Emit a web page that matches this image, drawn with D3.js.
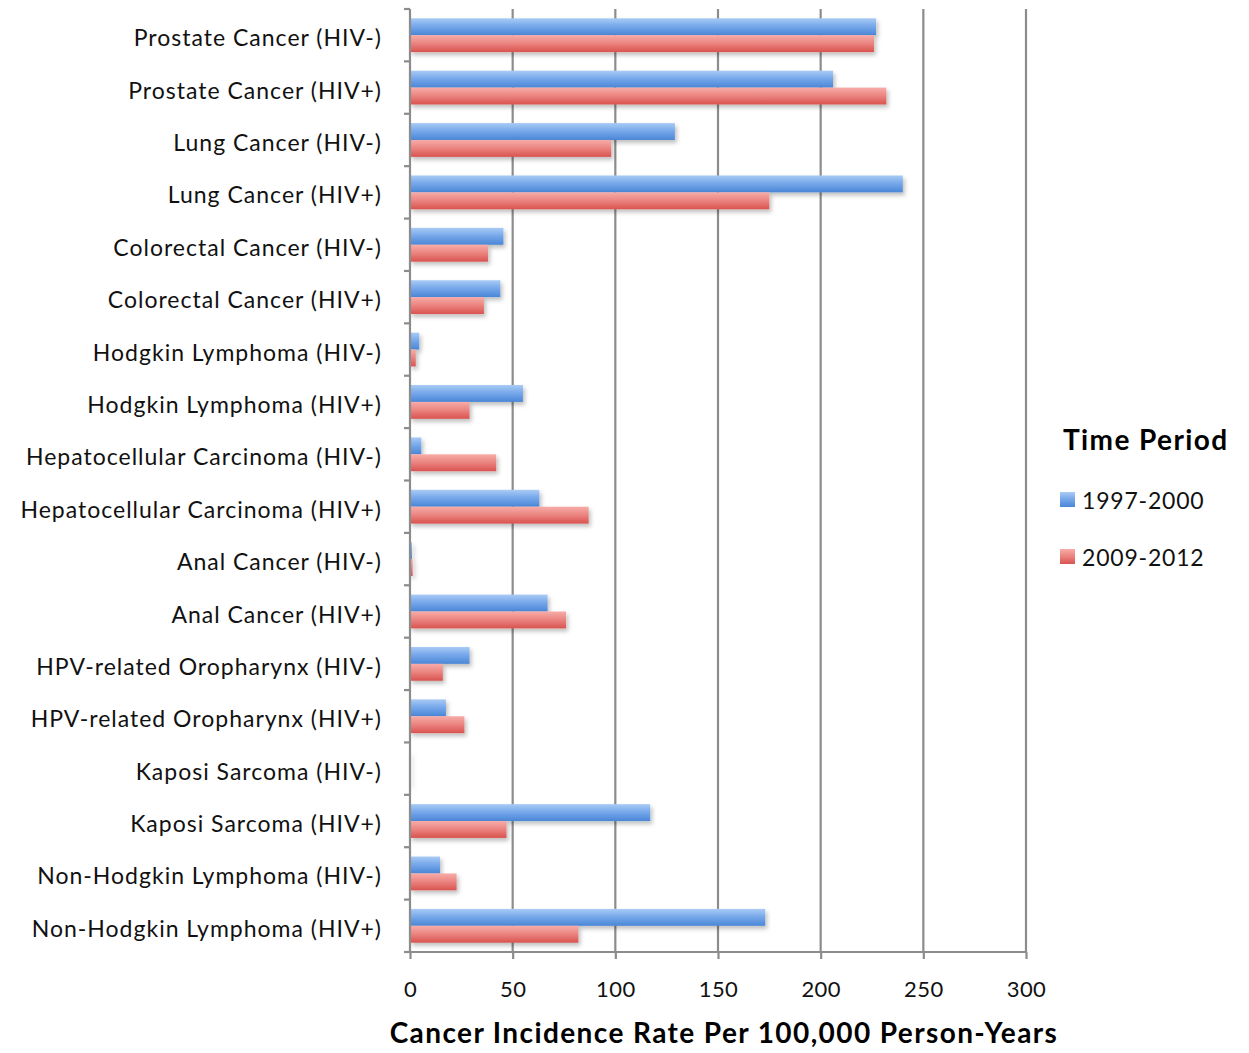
<!DOCTYPE html>
<html>
<head>
<meta charset="utf-8">
<script src="https://cdn.jsdelivr.net/npm/d3@7"></script>
<style>
  body { margin: 0; background: #fff; }
  svg { display: block; }
</style>
</head>
<body>
<svg id="chart" width="1249" height="1053"></svg>
<script>
// Cancer incidence per 100,000 person-years by cancer type and HIV status
const categories = [
  "Prostate Cancer (HIV-)", "Prostate Cancer (HIV+)",
  "Lung Cancer (HIV-)", "Lung Cancer (HIV+)",
  "Colorectal Cancer (HIV-)", "Colorectal Cancer (HIV+)",
  "Hodgkin Lymphoma (HIV-)", "Hodgkin Lymphoma (HIV+)",
  "Hepatocellular Carcinoma (HIV-)", "Hepatocellular Carcinoma (HIV+)",
  "Anal Cancer (HIV-)", "Anal Cancer (HIV+)",
  "HPV-related Oropharynx (HIV-)", "HPV-related Oropharynx (HIV+)",
  "Kaposi Sarcoma (HIV-)", "Kaposi Sarcoma (HIV+)",
  "Non-Hodgkin Lymphoma (HIV-)", "Non-Hodgkin Lymphoma (HIV+)"
];
const period1997 = [227, 206, 129, 240, 45.5, 44, 4.5, 55, 5.5, 63, 1, 67, 29, 17.5, 0.5, 117, 14.6, 173];
const period2009 = [226, 232, 98, 175, 38, 36, 2.8, 29, 42, 87, 1.3, 76, 16, 26.5, 0.5, 47, 22.7, 82];
const seriesNames = ["1997-2000", "2009-2012"];
const xTicks = [0, 50, 100, 150, 200, 250, 300];

const svg = d3.select("#chart");
const font = "Lato, 'Open Sans', sans-serif";

const plotLeft = 410, plotRight = 1026, plotTop = 9, plotBottom = 952;

const x = d3.scaleLinear().domain([0, 300]).range([plotLeft, plotRight]);
const y = d3.scaleBand().domain(categories).range([plotTop, plotBottom]).paddingInner(0).paddingOuter(0);
const inner = d3.scaleBand().domain(seriesNames).range([0, y.bandwidth()]).paddingOuter(0.55).paddingInner(0);

const defs = svg.append("defs");
const grads = [
  { id: "gBlue", stops: ["#a9cbf5", "#78a9eb", "#4a86d6"] },
  { id: "gRed", stops: ["#f7aca8", "#ec8783", "#d9534f"] }
];
grads.forEach(g => {
  const lg = defs.append("linearGradient").attr("id", g.id)
    .attr("x1", 0).attr("y1", 0).attr("x2", 0).attr("y2", 1);
  lg.append("stop").attr("offset", "0%").attr("stop-color", g.stops[0]);
  lg.append("stop").attr("offset", "45%").attr("stop-color", g.stops[1]);
  lg.append("stop").attr("offset", "100%").attr("stop-color", g.stops[2]);
});
const shadow = defs.append("filter").attr("id", "shadow")
  .attr("x", "-5%").attr("y", "-30%").attr("width", "115%").attr("height", "180%");
shadow.append("feDropShadow").attr("dx", 2).attr("dy", 3).attr("stdDeviation", 2)
  .attr("flood-color", "#000").attr("flood-opacity", 0.25);

// vertical gridlines
svg.append("g").selectAll("line").data(xTicks.slice(1)).join("line")
  .attr("x1", d => x(d)).attr("x2", d => x(d))
  .attr("y1", plotTop).attr("y2", plotBottom)
  .attr("stroke", "#8c8c8c").attr("stroke-width", 2.2);

// bars
const fills = ["url(#gBlue)", "url(#gRed)"];
const series = [period1997, period2009];
series.forEach((vals, si) => {
  svg.append("g").attr("filter", "url(#shadow)")
    .selectAll("rect").data(categories).join("rect")
    .attr("x", x(0))
    .attr("y", d => y(d) + inner(seriesNames[si]))
    .attr("width", (d, i) => x(vals[i]) - x(0))
    .attr("height", inner.bandwidth())
    .attr("fill", fills[si]);
});

// x axis
const xAxis = svg.append("g").attr("transform", `translate(0,${plotBottom})`)
  .call(d3.axisBottom(x).tickValues(xTicks).tickSize(7).tickPadding(22));
xAxis.select(".domain").attr("stroke", "#8c8c8c").attr("stroke-width", 2.2)
  .attr("d", `M${plotLeft},0H${plotRight}`);
xAxis.selectAll(".tick line").attr("stroke", "#8c8c8c").attr("stroke-width", 2.2);
xAxis.selectAll(".tick text").attr("font-family", font).attr("font-size", 22).attr("fill", "#111")
  .attr("letter-spacing", "0.4px");

// y axis
const yAxis = svg.append("g").attr("transform", `translate(${plotLeft},0)`)
  .call(d3.axisLeft(y).tickSize(0).tickPadding(28));
yAxis.select(".domain").attr("stroke", "#8c8c8c").attr("stroke-width", 2.2)
  .attr("d", `M0,${plotTop}V${plotBottom}`);
yAxis.selectAll(".tick text").attr("font-family", font).attr("font-size", 23).attr("fill", "#111")
  .attr("letter-spacing", "1px").attr("dy", "0.48em");
// category boundary ticks
svg.append("g").selectAll("line").data(d3.range(categories.length + 1)).join("line")
  .attr("x1", plotLeft - 6).attr("x2", plotLeft)
  .attr("y1", i => plotTop + i * y.step()).attr("y2", i => plotTop + i * y.step())
  .attr("stroke", "#8c8c8c").attr("stroke-width", 2.2);

// axis title
svg.append("text").attr("x", 724).attr("y", 1043).attr("text-anchor", "middle")
  .attr("font-family", font).attr("font-weight", 700).attr("font-size", 28).attr("fill", "#000")
  .attr("letter-spacing", "1.4px")
  .text("Cancer Incidence Rate Per 100,000 Person-Years");

// legend
const legend = svg.append("g");
legend.append("text").attr("x", 1063).attr("y", 450)
  .attr("font-family", font).attr("font-weight", 700).attr("font-size", 28).attr("fill", "#000")
  .attr("letter-spacing", "1.4px")
  .text("Time Period");
seriesNames.forEach((name, i) => {
  const ly = 500 + i * 57;
  legend.append("rect").attr("x", 1060).attr("y", ly - 8).attr("width", 15).attr("height", 15)
    .attr("fill", fills[i]);
  legend.append("text").attr("x", 1082).attr("y", ly + 9)
    .attr("font-family", font).attr("font-size", 23).attr("fill", "#111")
    .attr("letter-spacing", "0.8px").text(name);
});
</script>
</body>
</html>
